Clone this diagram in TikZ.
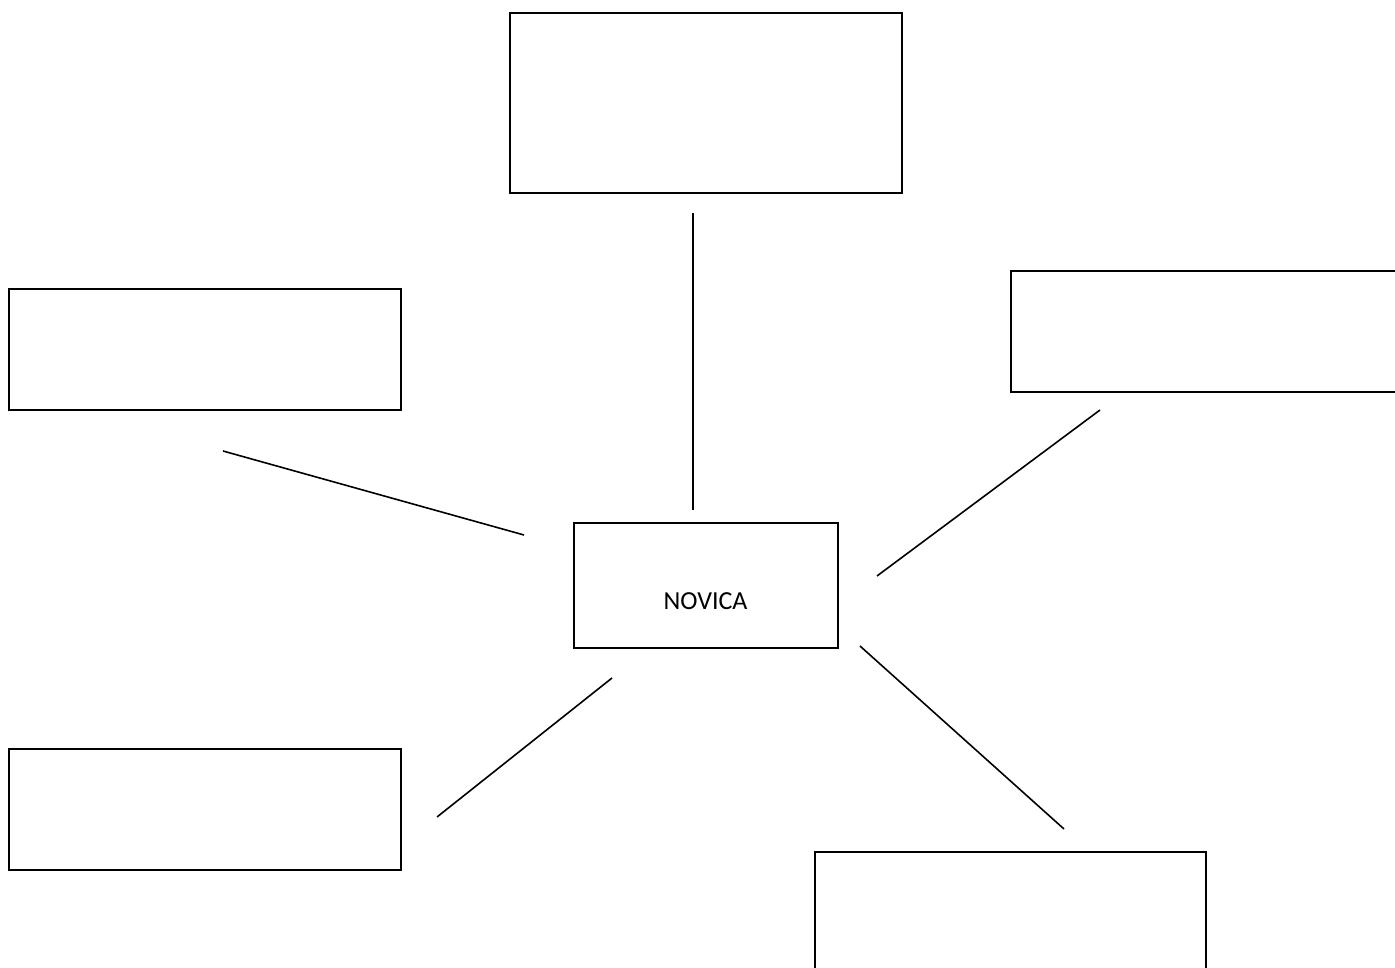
\documentclass[tikz,border=0pt]{standalone}
\usepackage{fontspec}
\setmainfont{Carlito}
\begin{document}
\begin{tikzpicture}[x=1pt,y=-1pt,
  box/.style={draw=black,line width=2pt,fill=none,inner sep=0pt,minimum width=#1},
  conn/.style={draw=black,line width=1.6pt}]
\useasboundingbox (0,0) rectangle (1395,968);
\clip (0,0) rectangle (1395,968);
\node[box=392pt,minimum height=180pt] (top) at (706,103) {};
\node[box=392pt,minimum height=121pt] (lu) at (205,349.5) {};
\node[box=409pt,minimum height=121pt] (ri) at (1215.5,331.5) {};
\node[box=264pt,minimum height=125pt] (ctr) at (706,585.5) {};
\node[font=\fontsize{26}{31}\selectfont,inner sep=0pt] (lbl) at (705.5,601) {NOVICA};
\node[box=392pt,minimum height=121pt] (ll) at (205,809.5) {};
\node[box=391pt,minimum height=148pt] (bot) at (1010.5,926) {};
\coordinate (a1) at (693,213); \coordinate (a2) at (693,510);
\coordinate (b1) at (223,451); \coordinate (b2) at (524,535);
\coordinate (c1) at (1100,410); \coordinate (c2) at (877,576);
\coordinate (d1) at (612,678); \coordinate (d2) at (437,817);
\coordinate (e1) at (860,646); \coordinate (e2) at (1064,829);
\draw[conn] (a1) -- (a2);
\draw[conn] (b1) -- (b2);
\draw[conn] (c1) -- (c2);
\draw[conn] (d1) -- (d2);
\draw[conn] (e1) -- (e2);
\end{tikzpicture}
\end{document}
